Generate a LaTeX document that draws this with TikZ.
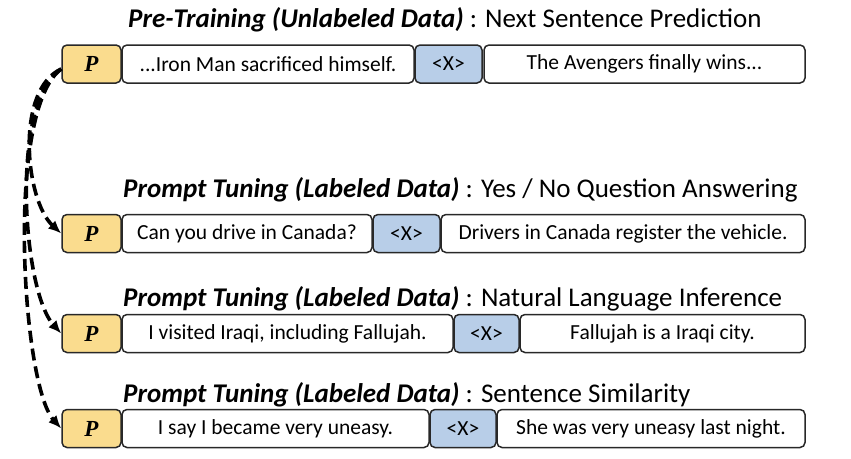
\documentclass[tikz,border=0pt]{standalone}
\usepackage{fontspec}
\setmainfont{Carlito}
\newfontfamily\pfont{Liberation Serif}
\usetikzlibrary{arrows.meta}
\definecolor{pyellow}{RGB}{250,220,142}
\definecolor{xblue}{RGB}{184,206,232}
\definecolor{edge}{RGB}{40,40,40}

\begin{document}
\begin{tikzpicture}[x=1pt,y=-1pt]
\tikzstyle{every node}+=[inner sep=0pt]
\tikzstyle{seg}=[draw=edge, line width=1.5pt, rounded corners=5pt, minimum height=38pt, font=\fontsize{21.5}{25}\selectfont]
\tikzstyle{pbox}=[seg, fill=pyellow, minimum width=59pt, font=\pfont\fontsize{23}{26}\selectfont\bfseries\itshape]
\tikzstyle{xbox}=[seg, fill=xblue]
\tikzstyle{title}=[anchor=base west, font=\fontsize{27}{31}\selectfont]
\tikzstyle{share}=[line width=3.6pt, dash pattern=on 12pt off 6pt, -{Latex[length=13pt,width=11pt]}]
\useasboundingbox (0,0) rectangle (851,458);
% pre-training
\node[title] (t1) at (128,27) {\textbf{\textit{Pre-Training (Unlabeled Data)}} : Next Sentence Prediction};
\node[pbox] (p1) at (91.5,64) {P};
\node[seg, minimum width=292pt] (a1) at (268,64) {...Iron Man sacrificed himself.};
\node[xbox, minimum width=67pt] (x1) at (448.5,64) {<X>};
\node[seg, minimum width=321pt] (b1) at (644.5,64) {The Avengers finally wins...};
% yes / no qa
\node[title] (t2) at (123,197) {\textbf{\textit{Prompt Tuning (Labeled Data)}} : Yes / No Question Answering};
\node[pbox] (p2) at (91.5,233.5) {P};
\node[seg, minimum width=250pt] (a2) at (247,233.5) {Can you drive in Canada?};
\node[xbox, minimum width=67pt] (x2) at (406.5,233.5) {<X>};
\node[seg, minimum width=364pt] (b2) at (623,233.5) {Drivers in Canada register the vehicle.};
% nli
\node[title] (t3) at (123,306) {\textbf{\textit{Prompt Tuning (Labeled Data)}} : Natural Language Inference};
\node[pbox] (p3) at (91.5,333.5) {P};
\node[seg, minimum width=331pt] (a3) at (287.5,333.5) {I visited Iraqi, including Fallujah.};
\node[xbox, minimum width=65pt] (x3) at (486.5,333.5) {<X>};
\node[seg, minimum width=285pt] (b3) at (662.5,333.5) {Fallujah is a Iraqi city.};
% similarity
\node[title] (t4) at (123,402) {\textbf{\textit{Prompt Tuning (Labeled Data)}} : Sentence Similarity};
\node[pbox] (p4) at (91.5,428.5) {P};
\node[seg, minimum width=307pt] (a4) at (275.5,428.5) {I say I became very uneasy.};
\node[xbox, minimum width=66pt] (x4) at (463,428.5) {<X>};
\node[seg, minimum width=308pt] (b4) at (651,428.5) {She was very uneasy last night.};
% shared prompt
\draw[share] ([yshift=-5pt]p1.west) .. controls (15,90) and (25,200) .. (p2.west);
\draw[share] ([yshift=-5pt]p1.west) .. controls (10,100) and (22,290) .. (p3.west);
\draw[share] ([yshift=-5pt]p1.west) .. controls (5,110) and (22,385) .. (p4.west);
\end{tikzpicture}
\end{document}
